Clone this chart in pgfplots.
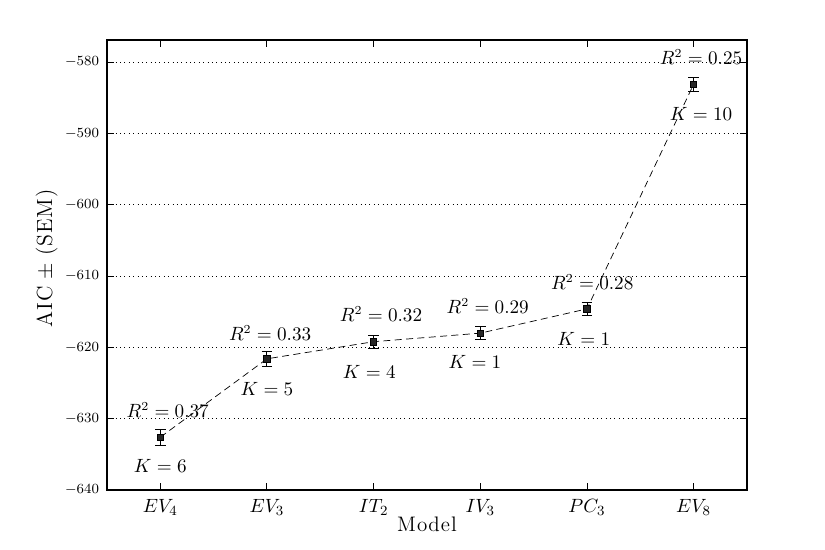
\documentclass[border=0pt]{standalone}
\usepackage{pgfplots}
\pgfplotsset{compat=1.18}
\usetikzlibrary{calc}

\begin{document}
\begin{tikzpicture}
\begin{axis}[
  name=main,
  scale only axis,
  width=365.7pt,
  height=257.1pt,
  xmin=-0.5, xmax=5.5,
  ymin=-640, ymax=-576.9,
  xtick={0,1,2,3,4,5},
  xticklabels={$EV_4$,$EV_3$,$IT_2$,$IV_3$,$PC_3$,$EV_8$},
  ytick={-640,-630,-620,-610,-600,-590,-580},
  tick align=inside,
  major tick length=4pt,
  ymajorgrids,
  grid style={black, line width=0.5pt, dotted},
  axis line style={line width=0.8pt},
  tick style={black, line width=0.5pt},
  yticklabel style={font=\fontsize{8.5}{10}\selectfont, xshift=-1pt},
  xticklabel style={font=\fontsize{11}{13}\selectfont, yshift=-2pt},
  xlabel={M\kern0.6pt o\kern0.6pt d\kern0.6pt e\kern0.6pt l},
  ylabel={A\kern0.5pt I\kern0.5pt C $\pm$ (\kern0.5pt S\kern0.5pt E\kern0.5pt M\kern0.5pt )},
  xlabel style={font=\fontsize{12}{14}\selectfont, yshift=6pt},
  ylabel style={font=\fontsize{12.5}{15}\selectfont,
    at={(axis description cs:-0.094,0.515)}, anchor=center},
  clip=false,
]
\addplot[black, dash pattern=on 4pt off 2.5pt, line width=0.4pt,
  mark=square*, mark size=1.8pt, mark options={solid, fill=black!85},
  error bars/.cd, y dir=both, y explicit,
  error bar style={black, solid, line width=0.5pt},
  error mark options={rotate=90, mark size=3pt, solid}]
coordinates {
  (0,-632.6) +- (0,1.1)
  (1,-621.6) +- (0,1.0)
  (2,-619.2) +- (0,0.9)
  (3,-618.0) +- (0,0.9)
  (4,-614.6) +- (0,0.9)
  (5,-583.1) +- (0,1.0)
};
\begin{scope}[every node/.style={font=\fontsize{10.5}{12}\selectfont, inner sep=0pt}]
\node at (axis cs:0.07,-628.8) {$R^2 = 0.37$};
\node at (axis cs:0,-636.6) {$K = 6$};
\node at (axis cs:1.03,-618.0) {$R^2 = 0.33$};
\node at (axis cs:1,-625.8) {$K = 5$};
\node at (axis cs:2.07,-615.3) {$R^2 = 0.32$};
\node at (axis cs:1.96,-623.5) {$K = 4$};
\node at (axis cs:3.07,-614.2) {$R^2 = 0.29$};
\node at (axis cs:2.95,-622.1) {$K = 1$};
\node at (axis cs:4.05,-610.8) {$R^2 = 0.28$};
\node at (axis cs:3.97,-618.8) {$K = 1$};
\node at (axis cs:5.07,-579.3) {$R^2 = 0.25$};
\node at (axis cs:5.07,-587.3) {$K = 10$};
\end{scope}
\end{axis}
\path ($(main.south west)+(-61.1pt,-33.7pt)$) rectangle ($(main.north east)+(44.6pt,22.9pt)$);
\end{tikzpicture}
\end{document}
